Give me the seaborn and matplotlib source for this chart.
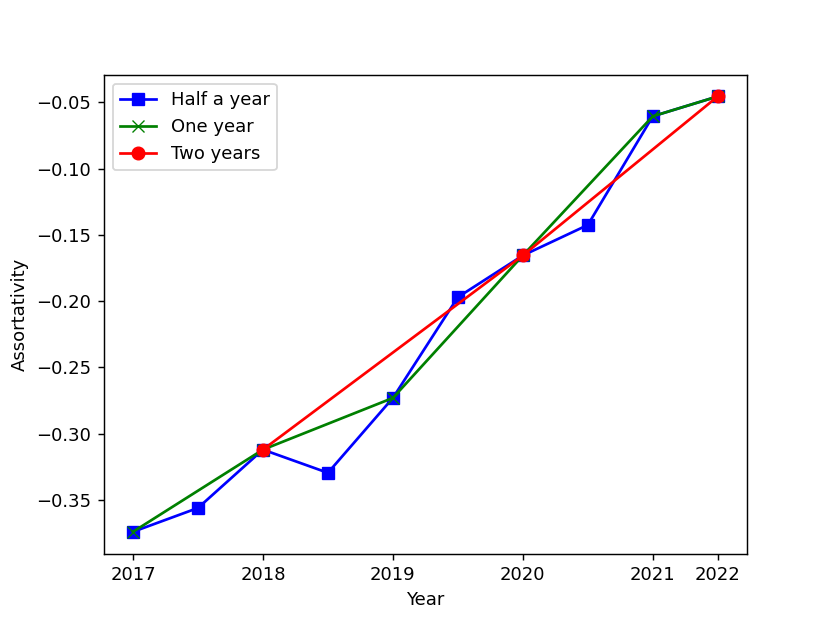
import matplotlib
matplotlib.use('Agg')
import matplotlib.pyplot as plt
import seaborn as sns
import pandas as pd

# --- DATOS ---
# x en medios años desde 2017 (0 = 2017, 9 = ultimo punto etiquetado 2022)
half_x = [0, 1, 2, 3, 4, 5, 6, 7, 8, 9]
half_y = [-0.374, -0.356, -0.312, -0.3295, -0.273, -0.197, -0.1655, -0.1425, -0.0605, -0.0455]

one_x = [0, 2, 4, 6, 8, 9]
one_y = [-0.374, -0.312, -0.273, -0.1655, -0.0605, -0.0455]

two_x = [2, 6, 9]
two_y = [-0.312, -0.1655, -0.0455]

tick_pos = [0, 2, 4, 6, 8, 9]
tick_labels = ['2017', '2018', '2019', '2020', '2021', '2022']


def generar_grafico():
    fig, ax = plt.subplots(figsize=(830 / 130, 622 / 130), dpi=130)

    series = [
        (half_x, half_y, 'Half a year', 'blue', 's'),
        (one_x, one_y, 'One year', 'green', 'x'),
        (two_x, two_y, 'Two years', 'red', 'o'),
    ]
    for xs, ys, nombre, color, marca in series:
        df = pd.DataFrame({'x': xs, 'y': ys})
        sns.lineplot(data=df, x='x', y='y', ax=ax, color=color, marker=marca,
                     markersize=7, markeredgecolor=color, label=nombre)

    ax.set_xticks(tick_pos)
    ax.set_xticklabels(tick_labels)
    ax.set_xlabel('Year')
    ax.set_ylabel('Assortativity')
    ax.legend(loc='upper left')

    fig.savefig('out.png', dpi=130)
    plt.close(fig)


if __name__ == "__main__":
    generar_grafico()
